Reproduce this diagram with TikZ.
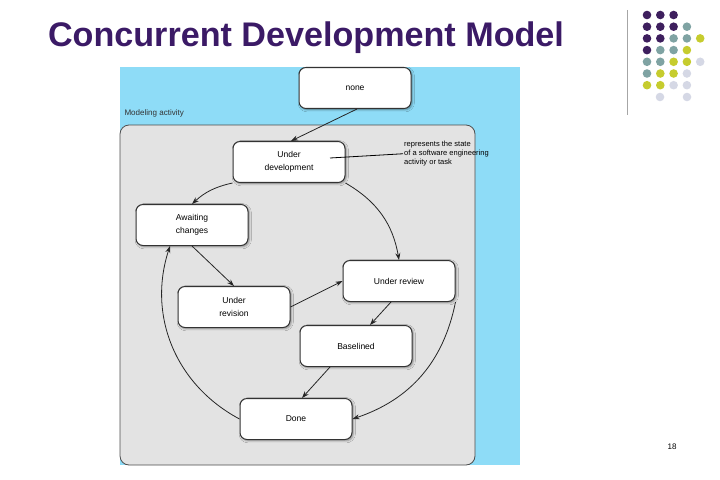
\documentclass[tikz,border=0pt]{standalone}
\usepackage{fontspec}
\setmainfont{Liberation Sans}
\usetikzlibrary{arrows.meta, positioning, calc, shadows.blur}
\definecolor{titlepurple}{HTML}{3B1A66}
\definecolor{panelblue}{HTML}{8EDCF7}
\definecolor{boxgray}{HTML}{E3E3E3}
\definecolor{dotp}{HTML}{3E1F5E}
\definecolor{dott}{HTML}{7FA3A3}
\definecolor{doty}{HTML}{C6CC2E}
\definecolor{dotl}{HTML}{D5D8E5}

\begin{document}
\begin{tikzpicture}[x=0.35mm, y=-0.35mm,
  st/.style={rectangle, rounded corners=7pt, fill=white, draw=black!80, line width=1pt,
    minimum width=112*0.35mm, minimum height=41*0.35mm, font=\fontsize{8.5}{10}\selectfont,
    align=center, blur shadow={shadow xshift=1.2pt, shadow yshift=-1.2pt, shadow blur steps=4}},
  arr/.style={-{Stealth[length=7pt, width=5pt]}, line width=0.8pt, black!85}
]
  \useasboundingbox (0,0) rectangle (720,480);
  % title and decoration
  \node[font=\bfseries\fontsize{34}{38}\selectfont, text=titlepurple] (title) at (306,38) {Concurrent Development Model};
  \draw[gray!70, line width=1pt] (627,10) -- (627,115);
  \foreach \row/\cols in {0/{dotp,dotp,dotp}, 1/{dotp,dotp,dotp,dott}, 2/{dotp,dotp,dott,dott,doty},
      3/{dotp,dott,dott,doty}, 4/{dott,dott,doty,doty,dotl}, 5/{dott,doty,doty,dotl},
      6/{doty,doty,dotl,dotl}}
    \foreach \c [count=\i from 0] in \cols
      \fill[\c] (647+13.3*\i, 15+11.7*\row) circle (4.3);
  \fill[dotl] (660,97) circle (4.3);
  \fill[dotl] (687,97) circle (4.3);
  \node[font=\fontsize{8}{9}\selectfont] (page) at (672,447) {18};

  % panels
  \fill[panelblue] (120,67) rectangle (520,465);
  \fill[boxgray, draw=black!70, line width=0.8pt, rounded corners=9pt] (120,125) rectangle (475,465);
  \node[font=\fontsize{8}{9}\selectfont, anchor=west, text=black!80] (act) at (121,113) {Modeling activity};

  % states
  \node[st] (none) at (355,88) {none};
  \node[st] (dev) at (289,162) {Under\\[3pt]development};
  \node[st] (await) at (192,225) {Awaiting\\[3pt]changes};
  \node[st] (review) at (399,281) {Under review};
  \node[st] (revision) at (234,307) {Under\\[3pt]revision};
  \node[st] (base) at (356,346) {Baselined};
  \node[st] (done) at (296,419) {Done};

  % note
  \node[font=\fontsize{7.5}{9}\selectfont, align=left, anchor=north west, inner sep=1pt] (note) at (403,140)
    {represents the state\\of a software engineering\\activity or task};
  \coordinate (tip) at (330,158);
  \draw[line width=0.8pt] (tip) -- (note.west);

  % transitions
  \draw[arr] ($(none.south)+(2,0)$) -- ($(dev.north)+(2,0)$);
  \draw[arr] (dev.south west) to[bend right=15] (await.north);
  \draw[arr] (dev.south east) to[bend left=25] (review.north);
  \draw[arr] ($(await.south)+(0,0)$) -- ($(revision.north)+(0,0)$);
  \draw[arr] (revision.east) -- (review.west);
  \draw[arr] ($(review.south)+(-8,0)$) -- ($(base.north)+(14,0)$);
  \draw[arr] ($(base.south)+(-26,0)$) -- ($(done.north)+(6,0)$);
  \draw[arr] (review.south east) to[bend left=30] (done.east);
  \draw[arr] (done.west) to[bend left=40] ($(await.south)+(-22,0)$);
\end{tikzpicture}
\end{document}
